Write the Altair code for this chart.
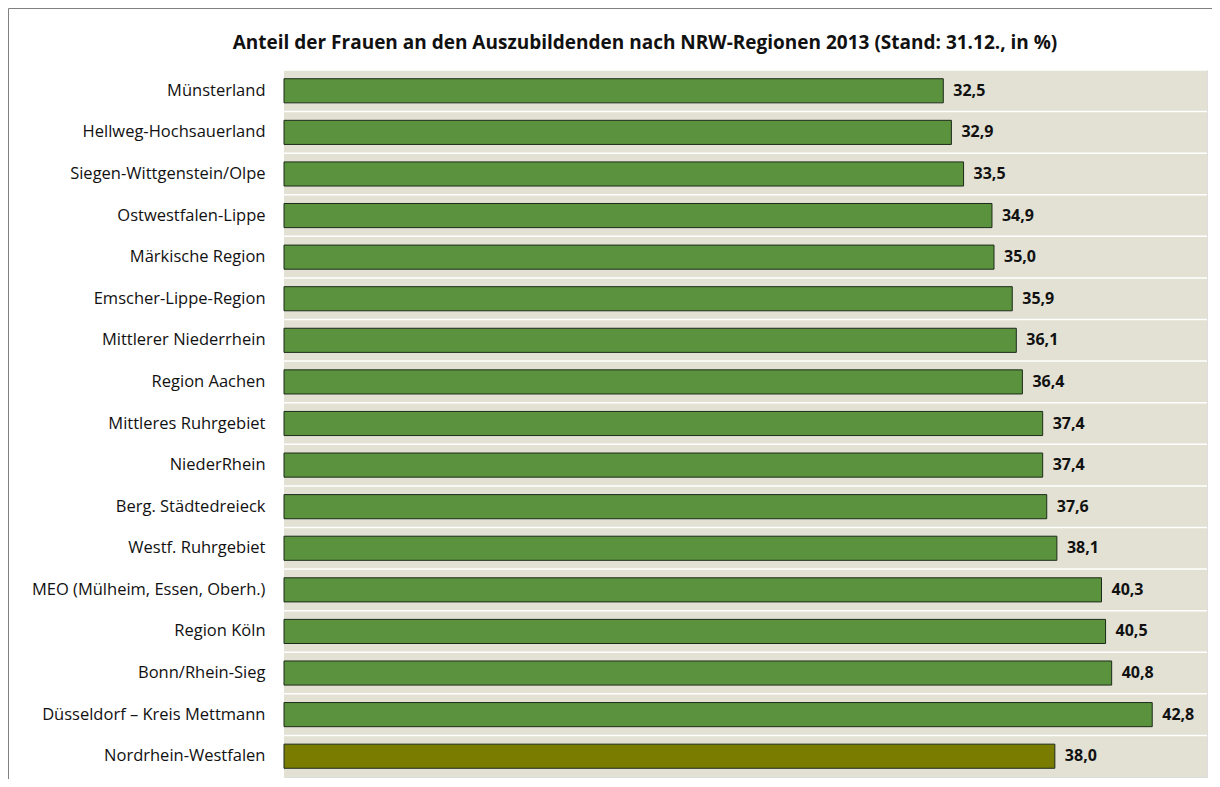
import altair as alt
import pandas as pd

regions = [
    "Münsterland",
    "Hellweg-Hochsauerland",
    "Siegen-Wittgenstein/Olpe",
    "Ostwestfalen-Lippe",
    "Märkische Region",
    "Emscher-Lippe-Region",
    "Mittlerer Niederrhein",
    "Region Aachen",
    "Mittleres Ruhrgebiet",
    "NiederRhein",
    "Berg. Städtedreieck",
    "Westf. Ruhrgebiet",
    "MEO (Mülheim, Essen, Oberh.)",
    "Region Köln",
    "Bonn/Rhein-Sieg",
    "Düsseldorf – Kreis Mettmann",
    "Nordrhein-Westfalen",
]
values = [32.5, 32.9, 33.5, 34.9, 35.0, 35.9, 36.1, 36.4, 37.4, 37.4, 37.6, 38.1,
          40.3, 40.5, 40.8, 42.8, 38.0]
groups = ["Region"] * 16 + ["NRW"]

title_text = "Anteil der Frauen an den Auszubildenden nach NRW-Regionen 2013 (Stand: 31.12., in %)"

df = pd.DataFrame({
    "region": regions,
    "value": values,
    "group": groups,
    "label": [f"{v:.1f}".replace(".", ",") for v in values],
})

W, H = 923, 707
FONT = "Open Sans"

ysc = alt.Scale(paddingInner=0.42, paddingOuter=0.21)
yaxis = alt.Axis(title=None, domain=False, ticks=False, grid=False,
                 labelPadding=19, labelFontSize=16.5, labelFont=FONT,
                 labelColor="#111111", labelLimit=400)

xenc = alt.X("value:Q", scale=alt.Scale(domain=[0, 45.5], nice=False, zero=True), axis=None)

base = alt.Chart(df)

one = pd.DataFrame({"a": [0]})
plot_bg = alt.Chart(one).mark_rect(color="#E2E1D4").encode(
    x=alt.value(0), x2=alt.value(W), y=alt.value(0), y2=alt.value(H),
)

rules = base.mark_rule(color="white", strokeWidth=1.5, yOffset=-8.73).encode(
    y=alt.Y("region:N", sort=regions, scale=ysc, bandPosition=0, axis=yaxis)
)

bars = base.mark_bar(stroke="#1d2b1a", strokeWidth=1).encode(
    y=alt.Y("region:N", sort=regions, scale=ysc, axis=yaxis),
    x=xenc,
    color=alt.Color("group:N", scale=alt.Scale(domain=["Region", "NRW"],
                                               range=["#5A923D", "#7A7C00"]), legend=None),
)

labels = base.mark_text(align="left", baseline="middle", dx=10, fontWeight="bold",
                        fontSize=16, font=FONT, color="#111111").encode(
    y=alt.Y("region:N", sort=regions, scale=ysc, axis=yaxis),
    x=xenc,
    text="label:N",
)

frame_top = alt.Chart(one).mark_rule(color="#808080", strokeWidth=1).encode(
    x=alt.value(-275.5), x2=alt.value(960), y=alt.value(-61.5),
)
frame_left = alt.Chart(one).mark_rule(color="#808080", strokeWidth=1).encode(
    x=alt.value(-275.5), y=alt.value(-61.5), y2=alt.value(740),
)
title = alt.Chart(one).mark_text(
    text=title_text, font=FONT, fontSize=19, fontWeight="bold", color="#111111",
    align="center", baseline="middle",
).encode(x=alt.value(361), y=alt.value(-27))

chart = alt.layer(plot_bg, frame_top, frame_left, title, rules, bars, labels).properties(
    width=W, height=H,
    autosize=alt.AutoSizeParams(type="none"),
    padding={"left": 276, "top": 62, "right": 5, "bottom": 2},
).configure_view(stroke=None).configure(background="white")

chart.save("out.html", embed_options={"renderer": "svg", "actions": False})
